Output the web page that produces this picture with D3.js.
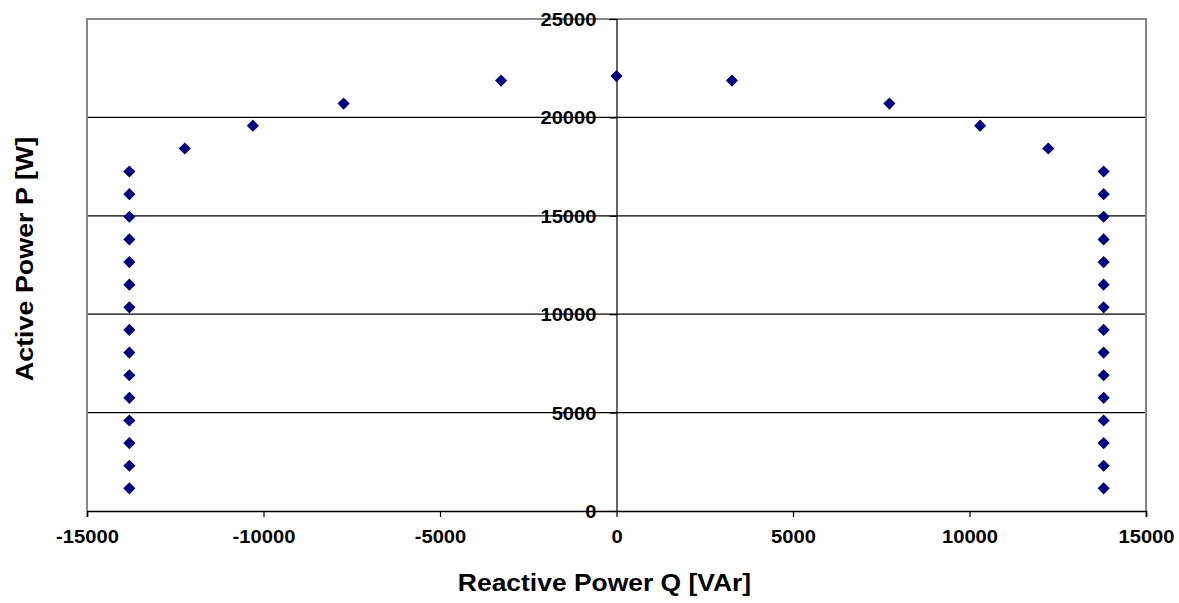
<!DOCTYPE html>
<html>
<head>
<meta charset="utf-8">
<script src="https://cdn.jsdelivr.net/npm/d3@7"></script>
<style>
  html, body { margin: 0; padding: 0; background: #fff; }
  svg { display: block; font-family: "Liberation Sans", Arial, sans-serif; }
</style>
</head>
<body>
<svg id="chart" width="1179" height="603"></svg>
<script>
// Reactive power Q [VAr] of each point
const qValues = [
  -13800, -13800, -13800, -13800, -13800, -13800, -13800, -13800,
  -13800, -13800, -13800, -13800, -13800, -13800, -13800,
  -12230, -10300, -7730, -3270, 0, 3270, 7730, 10300, 12230,
  13800, 13800, 13800, 13800, 13800, 13800, 13800, 13800,
  13800, 13800, 13800, 13800, 13800, 13800, 13800
];
// Active power P [W] of each point
const pValues = [
  1150, 2300, 3450, 4600, 5750, 6900, 8050, 9200,
  10350, 11500, 12650, 13800, 14950, 16100, 17250,
  18420, 19580, 20700, 21870, 22100, 21870, 20700, 19580, 18420,
  17250, 16100, 14950, 13800, 12650, 11500, 10350, 9200,
  8050, 6900, 5750, 4600, 3450, 2300, 1150
];
const xTicks = [-15000, -10000, -5000, 0, 5000, 10000, 15000];
const yTicks = [0, 5000, 10000, 15000, 20000, 25000];
const xTitle = "Reactive Power Q [VAr]";
const yTitle = "Active Power P [W]";

const W = 1179, H = 603;
const m = { left: 87, right: 33, top: 19, bottom: 92 };
const svg = d3.select("#chart");

const x = d3.scaleLinear().domain([-15000, 15000]).range([m.left, W - m.right]);
const y = d3.scaleLinear().domain([0, 25000]).range([H - m.bottom, m.top]);
const fmt = d => String(d);

// gridlines
svg.append("g").selectAll("line").data(yTicks.filter(d => d > 0 && d < 25000)).join("line")
  .attr("x1", x(-15000)).attr("x2", x(15000))
  .attr("y1", d => y(d)).attr("y2", d => y(d))
  .attr("stroke", "#000").attr("stroke-width", 1.2);

// plot border (gray) left/top/right
svg.append("path")
  .attr("d", `M${x(-15000)},${y(0)} V${y(25000)} H${x(15000)} V${y(0)}`)
  .attr("fill", "none").attr("stroke", "#868686").attr("stroke-width", 2);

// x axis at bottom
const xAxis = svg.append("g").attr("transform", `translate(0,${y(0)})`)
  .call(d3.axisBottom(x).tickValues(xTicks).tickSize(6).tickPadding(8).tickFormat(fmt));
xAxis.select(".domain").attr("stroke", "#000").attr("stroke-width", 1.6);
xAxis.selectAll(".tick line").attr("stroke", "#000").attr("stroke-width", 1.2);
xAxis.selectAll(".tick text")
  .attr("font-size", 18).attr("font-weight", "bold").attr("fill", "#000")
  .attr("font-family", "Liberation Sans, Arial, sans-serif")
  .attr("y", 0).attr("dy", null)
  .attr("transform", "translate(0,32) scale(1.12,1)");

// y axis at x = 0
const yAxis = svg.append("g").attr("transform", `translate(${x(0)},0)`)
  .call(d3.axisLeft(y).tickValues(yTicks).tickSize(7).tickPadding(10).tickFormat(fmt));
yAxis.select(".domain").attr("stroke", "#000").attr("stroke-width", 1.2);
yAxis.selectAll(".tick line").attr("stroke", "#000").attr("stroke-width", 1.2);
yAxis.selectAll(".tick text")
  .attr("font-size", 18).attr("font-weight", "bold").attr("fill", "#000")
  .attr("font-family", "Liberation Sans, Arial, sans-serif")
  .attr("x", 0).attr("dy", null)
  .attr("transform", "translate(-20,6.5) scale(1.12,1)");

// points
const pts = qValues.map((q, i) => ({ q, p: pValues[i] }));
svg.append("g").selectAll("path").data(pts).join("path")
  .attr("d", d3.symbol(d3.symbolSquare, 74)())
  .attr("transform", d => `translate(${x(d.q)},${y(d.p)}) rotate(45)`)
  .attr("fill", "#000080");

// axis titles
svg.append("text")
  .attr("transform", `translate(${(x(-15000) + x(15000)) / 2 - 12},591) scale(1.15,1)`)
  .attr("text-anchor", "middle")
  .attr("font-size", 23).attr("font-weight", "bold").attr("fill", "#000")
  .text(xTitle);

svg.append("text")
  .attr("transform", `translate(33,259) rotate(-90) scale(1.12,1)`)
  .attr("text-anchor", "middle")
  .attr("font-size", 24).attr("font-weight", "bold").attr("fill", "#000")
  .text(yTitle);
</script>
</body>
</html>
